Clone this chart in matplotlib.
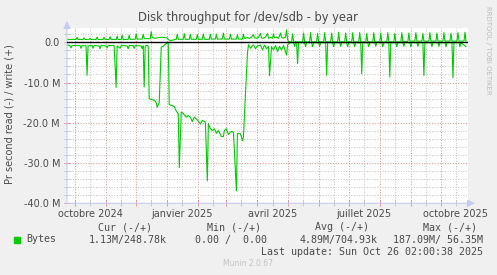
import datetime as dt

import matplotlib

matplotlib.use("Agg")
import matplotlib.dates as mdates
import matplotlib.pyplot as plt
from matplotlib.patches import Rectangle
from matplotlib.ticker import FixedLocator, MultipleLocator

# (days since 2024-09-23, MB/s)
write_points = [
    (0, 0.7), (9, 0.7), (10, 1.25), (11, 0.7), (16, 0.7), (17, 1.1), (18, 0.7),
    (22, 0.7), (23, 1.0), (24, 0.7), (29, 0.7), (30, 1.3), (31, 0.7), (36, 0.7),
    (37, 1.2), (38, 0.7), (42, 0.7), (43, 1.4), (44, 0.7), (49, 0.7), (50, 1.5),
    (51, 0.7), (54, 0.7), (55, 1.75), (56, 0.7), (61, 0.75), (62, 1.75), (63, 0.75),
    (68, 0.75), (69, 2.1), (70, 0.8), (75, 0.8), (76, 2.0), (77, 0.9), (83, 0.9),
    (84, 2.6), (85, 1.2), (88, 1.0), (92, 1.2), (96, 1.25), (100, 1.1), (101, 0.7),
    (103, 0.4), (105, 0.5), (108, 0.75), (109, 0.75), (110, 2.0), (111, 0.75),
    (116, 0.75), (117, 2.1), (118, 0.75), (122, 0.75), (123, 2.0), (124, 0.75),
    (129, 0.75), (130, 1.9), (131, 0.75), (135, 0.75), (136, 2.1), (137, 0.75),
    (142, 0.75), (143, 2.0), (144, 0.8), (148, 0.8), (149, 2.0), (150, 0.8),
    (155, 0.8), (156, 2.3), (157, 0.8), (162, 0.8), (163, 2.0), (164, 0.8),
    (169, 0.8), (170, 1.9), (171, 0.8), (175, 0.8), (176, 2.0), (177, 0.9),
    (180, 1.2), (182, 1.0), (184, 1.3), (186, 1.9), (187, 1.1), (189, 1.0),
    (191, 1.2), (193, 2.2), (194, 1.1), (196, 1.0), (198, 1.3), (200, 2.2),
    (201, 1.0), (203, 1.2), (205, 1.0), (206, 2.1), (207, 1.1), (209, 1.3),
    (211, 1.0), (213, 2.3), (214, 1.2), (216, 1.0), (218, 1.3), (219, 3.1),
    (220, 0.8), (221, 0.1), (224, 0.1), (225, 2.1), (226, 0.1), (235, 0.1),
    (236, 2.3), (237, 0.1), (242, 0.1), (243, 2.4), (244, 0.1), (249, 0.1),
    (250, 2.2), (251, 0.1), (256, 0.1), (257, 2.4), (258, 0.1), (263, 0.1),
    (264, 2.3), (265, 0.1), (270, 0.1), (271, 2.5), (272, 0.1), (277, 0.1),
    (278, 2.3), (279, 0.1), (284, 0.1), (285, 2.4), (286, 0.1), (291, 0.1),
    (292, 2.4), (293, 0.1), (298, 0.1), (299, 2.2), (300, 0.1), (305, 0.1),
    (306, 2.4), (307, 0.1), (312, 0.1), (313, 2.3), (314, 0.1), (319, 0.1),
    (320, 2.4), (321, 0.1), (326, 0.1), (327, 2.2), (328, 0.1), (333, 0.1),
    (334, 2.4), (335, 0.2), (340, 0.2), (341, 2.3), (342, 0.3), (347, 0.3),
    (348, 2.4), (349, 0.3), (354, 0.3), (355, 2.2), (356, 0.3), (361, 0.3),
    (362, 2.4), (363, 0.3), (368, 0.3), (369, 2.3), (370, 0.3), (375, 0.3),
    (376, 2.4), (377, 0.3), (382, 0.3), (383, 2.2), (384, 0.3), (389, 0.3),
    (390, 2.4), (391, 0.3), (396, 0.3), (397, 2.5), (398, 0.3),
]

read_points = [
    (0, -0.7), (3, -0.8), (4, -1.4), (5, -0.8), (13, -0.8), (14, -1.5), (15, -0.8),
    (19, -0.9), (20, -8.2), (21, -0.9), (25, -0.8), (26, -1.5), (27, -0.8),
    (32, -0.9), (33, -1.6), (34, -0.8), (39, -0.9), (40, -1.4), (41, -0.8),
    (47, -0.8), (49, -11.2), (50, -0.9), (53, -1.5), (54, -0.8), (60, -0.9),
    (61, -1.6), (62, -0.8), (66, -0.8), (67, -1.5), (68, -0.8), (74, -0.9),
    (75, -1.6), (76, -0.9), (77, -11.1), (78, -0.9), (80, -0.8), (81, -0.9),
    (82, -14.0), (84, -14.2), (87, -14.4), (89, -15.0), (90, -16.1), (92, -15.0),
    (94, -1.2), (96, -1.0), (98, -0.5), (100, -0.2), (101, 0.0), (102, -15.5),
    (105, -15.7), (107, -16.0), (109, -17.1), (111, -17.7), (112, -31.1),
    (114, -17.3), (116, -17.7), (119, -18.6), (121, -18.2), (123, -18.6),
    (125, -19.7), (127, -18.6), (129, -19.0), (131, -19.6), (133, -20.3),
    (135, -19.4), (138, -19.8), (140, -34.4), (141, -20.2), (143, -21.5),
    (145, -21.9), (147, -21.5), (149, -22.6), (151, -21.9), (154, -23.4),
    (156, -23.4), (157, -21.9), (159, -21.5), (161, -22.9), (164, -22.1),
    (166, -22.3), (169, -36.9), (170, -22.7), (173, -22.7), (175, -24.4),
    (176, -23.4), (180, -2.7), (181, -0.6), (183, -1.5), (185, -0.8), (186, -0.7),
    (188, -1.6), (190, -0.9), (193, -0.7), (195, -1.9), (197, -0.7), (199, -1.6),
    (201, -1.0), (202, -8.3), (204, -1.1), (206, -1.9), (208, -0.8), (210, -2.3),
    (212, -1.0), (214, -1.9), (216, -0.8), (219, -3.2), (220, -0.7), (222, -0.1),
    (226, -0.1), (227, -1.0), (228, -0.1), (229, -0.1), (230, -5.3), (231, -0.1),
    (237, -0.1), (238, -1.1), (239, -0.1), (244, -0.1), (245, -1.1), (246, -0.1),
    (251, -0.1), (252, -1.0), (253, -0.1), (258, -0.1), (259, -8.2), (260, -0.1),
    (265, -0.1), (266, -1.1), (267, -0.1), (272, -0.1), (273, -1.0), (274, -0.1),
    (279, -0.1), (280, -1.1), (281, -0.1), (286, -0.1), (287, -1.1), (288, -0.1),
    (293, -0.1), (294, -7.8), (295, -0.1), (300, -0.1), (301, -1.1), (302, -0.1),
    (307, -0.1), (308, -1.0), (309, -0.1), (314, -0.1), (315, -1.1), (316, -0.1),
    (321, -0.1), (322, -8.6), (323, -0.1), (328, -0.1), (329, -1.1), (330, -0.1),
    (335, -0.1), (336, -1.0), (337, -0.1), (342, -0.1), (343, -1.1), (344, -0.1),
    (349, -0.1), (350, -1.0), (351, -0.1), (355, -0.1), (356, -8.2), (357, -0.1),
    (363, -0.1), (364, -1.1), (365, -0.1), (370, -0.1), (371, -1.0), (372, -0.1),
    (377, -0.1), (378, -1.1), (379, -0.1), (384, -0.1), (385, -8.8), (386, -0.1),
    (391, -0.1), (392, -1.1), (393, -0.1), (398, -1.1),
]

y_major = [0, -10, -20, -30, -40]
y_major_labels = ["0.0", "-10.0 M", "-20.0 M", "-30.0 M", "-40.0 M"]
month_labels = [
    (dt.datetime(2024, 10, 16), "octobre 2024"),
    (dt.datetime(2025, 1, 16), "janvier 2025"),
    (dt.datetime(2025, 4, 16), "avril 2025"),
    (dt.datetime(2025, 7, 16), "juillet 2025"),
    (dt.datetime(2025, 10, 16), "octobre 2025"),
]
legend_headers = ["Cur (-/+)", "Min (-/+)", "Avg (-/+)", "Max (-/+)"]
legend_values = ["1.13M/248.78k", "0.00 /  0.00", "4.89M/704.93k", "187.09M/ 56.35M"]

START = dt.datetime(2024, 9, 23)
W, H = 497, 275
GREEN = "#00CC00"
TEXT = "#4A4A4A"
MGRID = "#E39696"
GRID = "#C8C8C8"
AXIS = "#C4CCF2"


def px(x, y):
    """Figure fraction from pixel coordinates (origin top-left)."""
    return x / W, 1 - y / H


def to_dates(points):
    start = mdates.date2num(START)
    return [start + d for d, _ in points], [v for _, v in points]


def main():
    fig = plt.figure(figsize=(W / 100, H / 100), dpi=100, facecolor="#F0F0F0")
    left, top, right, bottom = 67, 28, 468, 203.3
    ax = fig.add_axes([left / W, 1 - bottom / H, (right - left) / W, (bottom - top) / H])
    ax.set_facecolor("white")

    xs, ys = to_dates(write_points)
    ax.plot(xs, ys, color=GREEN, lw=0.8, zorder=3)
    xs, ys = to_dates(read_points)
    ax.plot(xs, ys, color=GREEN, lw=0.8, zorder=3)
    ax.axhline(0, color="black", lw=1.0, zorder=4)

    x0 = mdates.date2num(START)
    ax.set_xlim(x0, x0 + 400)
    ax.set_ylim(-40, 3.55)

    ax.yaxis.set_major_locator(FixedLocator(y_major))
    ax.yaxis.set_minor_locator(MultipleLocator(2))
    ax.set_yticklabels(y_major_labels)
    ax.xaxis.set_major_locator(mdates.MonthLocator(bymonthday=1))
    ax.xaxis.set_minor_locator(mdates.MonthLocator(bymonthday=16))
    ax.set_xticklabels([])

    dots = (0, (1, 1.5))
    ax.grid(which="major", color=MGRID, linestyle=dots, lw=0.75, zorder=1)
    ax.grid(which="minor", color=GRID, linestyle=dots, lw=0.75, zorder=1)
    ax.set_axisbelow(True)
    ax.tick_params(which="major", direction="inout", length=4, width=0.7,
                   color=MGRID, labelcolor=TEXT, labelsize=7, pad=3)
    ax.tick_params(which="minor", direction="inout", length=4, width=0.7, color=GRID)
    for spine in ax.spines.values():
        spine.set_visible(False)

    for when, label in month_labels:
        ax.text(mdates.date2num(when), -0.035, label, transform=ax.get_xaxis_transform(),
                ha="center", va="top", fontsize=7, color=TEXT)

    arrow = dict(arrowstyle="-|>,head_length=0.45,head_width=0.22", color=AXIS,
                 lw=0.8, shrinkA=0, shrinkB=0)
    ax.annotate("", xy=(0, 1 + 7 / (bottom - top)), xytext=(0, 0),
                xycoords="axes fraction", arrowprops=arrow, annotation_clip=False)
    ax.annotate("", xy=(1 + 7 / (right - left), 0), xytext=(0, 0),
                xycoords="axes fraction", arrowprops=arrow, annotation_clip=False)

    fig.text(*px(248, 18), "Disk throughput for /dev/sdb - by year", ha="center",
             va="center", fontsize=8.3, color=TEXT)
    fig.text(*px(9.5, 114), "Pr second read (-) / write (+)", rotation=90,
             ha="center", va="center", fontsize=7, color=TEXT)
    fig.text(*px(488, 6), "RRDTOOL / TOBI OETIKER", rotation=270, ha="center",
             va="top", fontsize=5, color="#BDBDBD")

    mono = dict(family="DejaVu Sans Mono", fontsize=7.2, color=TEXT, va="center")
    for x, header in zip([98, 207, 315, 423], legend_headers):
        fig.text(*px(x, 227.5), header, ha="left", **mono)
    fig.patches.append(Rectangle(px(14, 242.5), 6 / W, 6 / H, color=GREEN,
                                 transform=fig.transFigure, figure=fig))
    fig.text(*px(26, 239.5), "Bytes", ha="left", **mono)
    for x, value in zip([167, 267, 378, 483], legend_values):
        fig.text(*px(x, 239.5), value, ha="right", **mono)
    fig.text(*px(483, 251.8), "Last update: Sun Oct 26 02:00:38 2025", ha="right", **mono)
    fig.text(*px(248, 263.5), "Munin 2.0.67", ha="center", va="center",
             fontsize=5.5, color="#C4C4C4")

    fig.savefig("out.png", dpi=100, facecolor=fig.get_facecolor())


main()
